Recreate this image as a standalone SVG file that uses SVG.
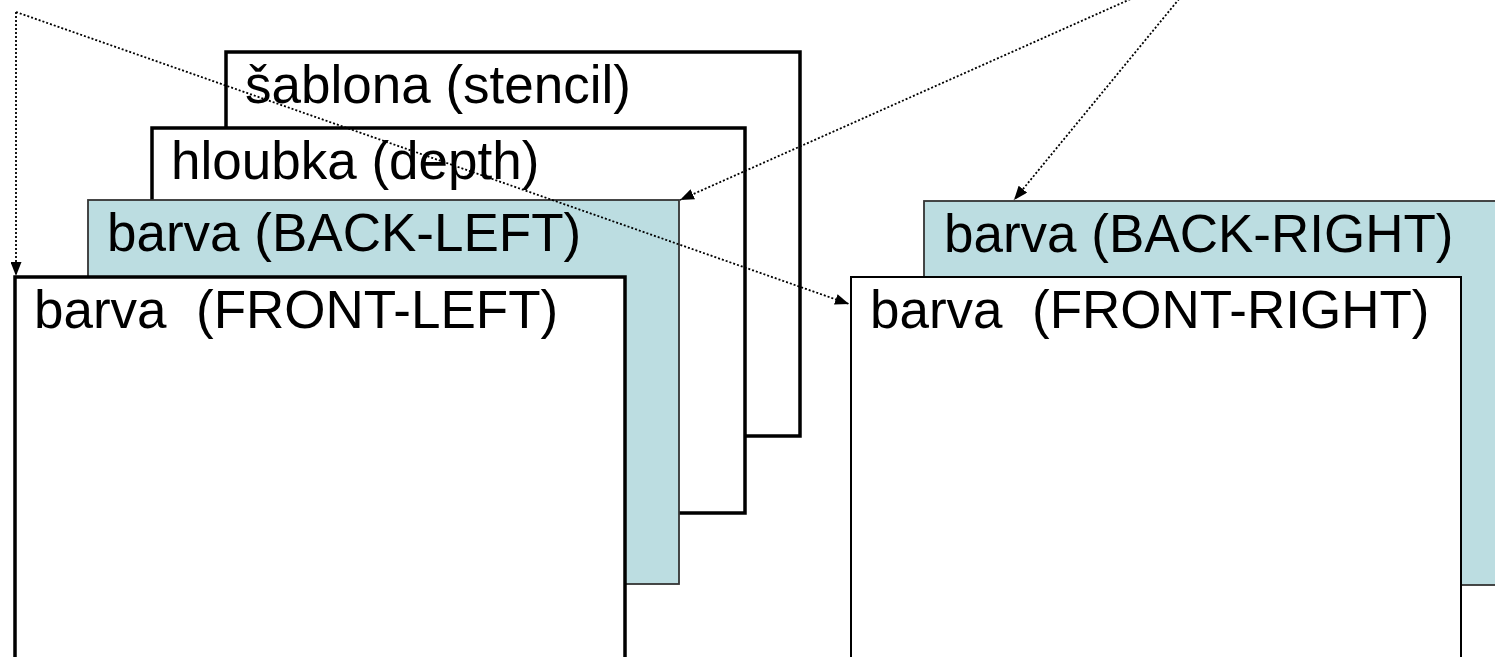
<svg xmlns="http://www.w3.org/2000/svg" width="1495" height="657" viewBox="0 0 1495 657">
  <style>
    .lbl { font-family: "Liberation Sans", Arial, sans-serif; font-size: 53px; fill: #000; }
    .buf { fill: #ffffff; stroke: #000; stroke-width: 3.5; }
    .buf-thin { fill: #ffffff; stroke: #000; stroke-width: 2; }
    .color-back { fill: #bcdde1; stroke: #333; stroke-width: 1.8; }
    .link { fill: none; stroke: #000; stroke-width: 1.8; stroke-dasharray: 2 2; }
  </style>
  <defs>
    <marker id="arrow" viewBox="0 0 14 11" refX="14" refY="5.5" markerWidth="14" markerHeight="11" markerUnits="userSpaceOnUse" orient="auto">
      <path d="M0,0 L14,5.5 L0,11 Z" fill="#000"/>
    </marker>
  </defs>
  <rect width="1495" height="657" fill="#ffffff"/>

  <!-- left stack of buffers -->
  <g id="stencil">
    <rect class="buf" x="226" y="52" width="574" height="384"/>
    <text class="lbl" x="245" y="103">šablona (stencil)</text>
  </g>
  <g id="depth">
    <rect class="buf" x="152" y="128" width="593" height="385"/>
    <text class="lbl" x="171" y="179">hloubka (depth)</text>
  </g>
  <g id="back-left">
    <rect class="color-back" x="88" y="200" width="591" height="384"/>
    <text class="lbl" x="107" y="251">barva (BACK-LEFT)</text>
  </g>
  <g id="front-left">
    <rect class="buf" x="15" y="277" width="610" height="400"/>
    <text class="lbl" x="34" y="328" xml:space="preserve">barva  (FRONT-LEFT)</text>
  </g>

  <!-- right stack of buffers -->
  <g id="back-right">
    <rect class="color-back" x="924" y="201" width="600" height="384"/>
    <text class="lbl" x="944" y="252">barva (BACK-RIGHT)</text>
  </g>
  <g id="front-right">
    <rect class="buf-thin" x="851" y="277" width="610" height="400"/>
    <text class="lbl" x="870" y="328" xml:space="preserve">barva  (FRONT-RIGHT)</text>
  </g>

  <!-- dotted pointers -->
  <g id="connectors">
    <line class="link" x1="16" y1="12" x2="16" y2="276" marker-end="url(#arrow)"/>
    <line class="link" x1="16" y1="12" x2="849" y2="304" marker-end="url(#arrow)"/>
    <line class="link" x1="1207" y1="-35" x2="680" y2="200" marker-end="url(#arrow)"/>
    <line class="link" x1="1207" y1="-35" x2="1014" y2="200" marker-end="url(#arrow)"/>
  </g>
</svg>
